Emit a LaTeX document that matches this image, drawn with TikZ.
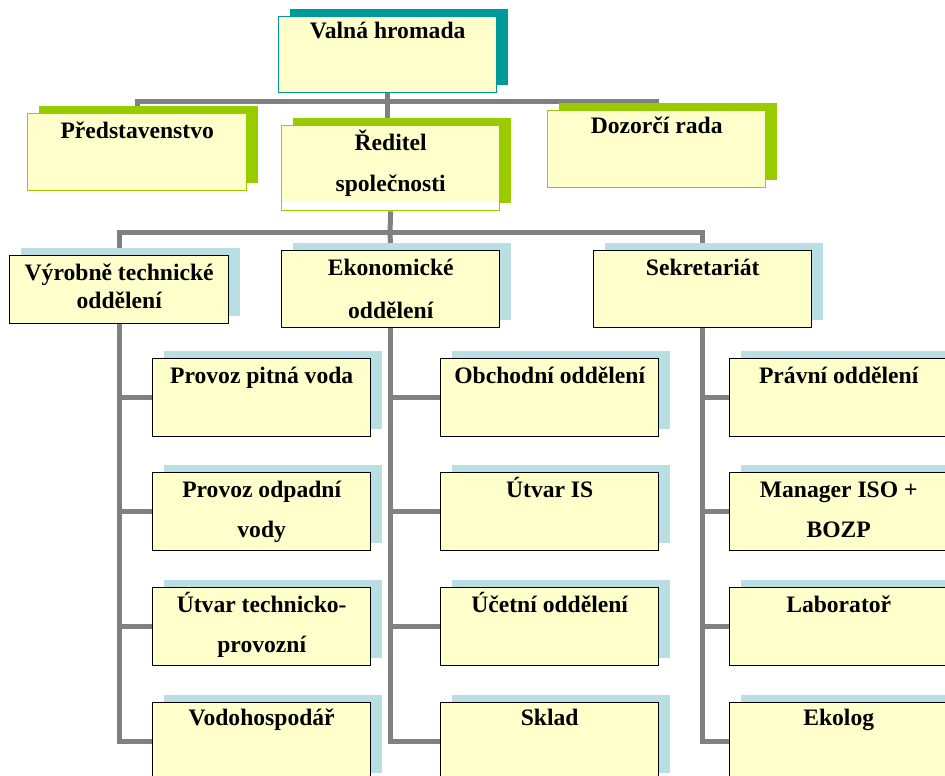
\documentclass[tikz,border=0pt]{standalone}
\usepackage{fontspec}
\setmainfont{Liberation Serif}
\usetikzlibrary{positioning}
\usetikzlibrary{shadows}
\usetikzlibrary{backgrounds}
\definecolor{boxfill}{RGB}{255,255,204}
\definecolor{tealshade}{RGB}{0,153,153}
\definecolor{greenshade}{RGB}{153,204,0}
\definecolor{blueshade}{RGB}{185,222,228}
\definecolor{linegray}{RGB}{128,128,128}
\begin{document}
\begin{tikzpicture}[x=1pt,y=-1pt,
  box/.style={draw,fill=boxfill,line width=1.4pt,anchor=north west,minimum width=218pt,minimum height=78pt,inner sep=0pt},
  shade/.style={general shadow={shadow xshift=11pt,shadow yshift=8pt,fill=#1}},
  topbox/.style={box,draw=#1,shade=#1},
  topbox/.default=greenshade,
  deptbox/.style={box,draw=black,shade=blueshade},
  boxtext/.style={anchor=base,font=\fontsize{23.6}{28}\selectfont\bfseries,align=center,inner sep=0pt},
  conn/.style={draw=linegray,line width=5pt}]
  \useasboundingbox (0,0) rectangle (945,776);
  \clip (0,0) rectangle (945,776);
  % top level
  \node[topbox=tealshade,minimum height=76pt] (vh) at (278,16) {};
  \node[boxtext] (vh-t) at ([yshift=-23pt]vh.north) {Valná hromada};
  \node[topbox,minimum width=219pt,minimum height=77pt] (pr) at (27,113) {};
  \node[boxtext] (pr-t) at ([yshift=-25pt]pr.north) {Představenstvo};
  \node[topbox,minimum height=85pt,path picture={\fill[white] ([yshift=9pt]path picture bounding box.south west) rectangle (path picture bounding box.south east);}] (rd) at (281,125) {};
  \node[boxtext] (rd-t) at ([yshift=-66pt]rd.north) {Ředitel\\[13pt]společnosti};
  \node[topbox,minimum height=77pt] (dr) at (547,110) {};
  \node[boxtext] (dr-t) at ([yshift=-23pt]dr.north) {Dozorčí rada};
  % departments (base anchor sits on the last line)
  \node[deptbox,minimum width=219pt,minimum height=68pt] (vt) at (9,255) {};
  \node[boxtext] (vt-t) at ([yshift=-53pt]vt.north) {Výrobně technické\\oddělení};
  \node[deptbox,minimum height=77pt] (eo) at (281,250) {};
  \node[boxtext] (eo-t) at ([yshift=-68pt]eo.north) {Ekonomické\\[15pt]oddělení};
  \node[deptbox,minimum height=77pt] (sk) at (593,250) {};
  \node[boxtext] (sk-t) at ([yshift=-25pt]sk.north) {Sekretariát};
  % first column
  \node[deptbox] (pv) at (152,358) {};
  \node[boxtext] (pv-t) at ([yshift=-25pt]pv.north) {Provoz pitná voda};
  \node[deptbox] (ov) at (152,472) {};
  \node[boxtext] (ov-t) at ([yshift=-65pt]ov.north) {Provoz odpadní\\[12pt]vody};
  \node[deptbox] (tp) at (152,587) {};
  \node[boxtext] (tp-t) at ([yshift=-65pt]tp.north) {Útvar technicko-\\[12pt]provozní};
  \node[deptbox] (vo) at (152,702) {};
  \node[boxtext] (vo-t) at ([yshift=-23pt]vo.north) {Vodohospodář};
  % second column
  \node[deptbox] (ob) at (440,358) {};
  \node[boxtext] (ob-t) at ([yshift=-25pt]ob.north) {Obchodní oddělení};
  \node[deptbox] (is) at (440,472) {};
  \node[boxtext] (is-t) at ([yshift=-25pt]is.north) {Útvar IS};
  \node[deptbox] (uc) at (440,587) {};
  \node[boxtext] (uc-t) at ([yshift=-25pt]uc.north) {Účetní oddělení};
  \node[deptbox] (sl) at (440,702) {};
  \node[boxtext] (sl-t) at ([yshift=-23pt]sl.north) {Sklad};
  % third column
  \node[deptbox] (pa) at (729,358) {};
  \node[boxtext] (pa-t) at ([yshift=-25pt]pa.north) {Právní oddělení};
  \node[deptbox] (mi) at (729,472) {};
  \node[boxtext] (mi-t) at ([yshift=-65pt]mi.north) {Manager ISO +\\[12pt]BOZP};
  \node[deptbox] (la) at (729,587) {};
  \node[boxtext] (la-t) at ([yshift=-25pt]la.north) {Laboratoř};
  \node[deptbox] (ek) at (729,702) {};
  \node[boxtext] (ek-t) at ([yshift=-23pt]ek.north) {Ekolog};
  % connectors
  \begin{scope}[on background layer]
  \coordinate (jt) at (388,101);
  \coordinate (jm) at (390,232);
  \draw[conn](vh.south)--(vh.south |- rd.north);
  \draw[conn](pr.north)|-(jt)-|(dr.north);
  \draw[conn](rd.south)--(jm);
  \draw[conn](vt.north)|-(jm)-|(sk.north);
  \draw[conn](jm)--(eo.north);
  \draw[conn](vt.south)|-(vo.west);
  \draw[conn](vt.south |- pv.west)--(pv.west);
  \draw[conn](vt.south |- ov.west)--(ov.west);
  \draw[conn](vt.south |- tp.west)--(tp.west);
  \draw[conn](eo.south)|-(sl.west);
  \draw[conn](eo.south |- ob.west)--(ob.west);
  \draw[conn](eo.south |- is.west)--(is.west);
  \draw[conn](eo.south |- uc.west)--(uc.west);
  \draw[conn](sk.south)|-(ek.west);
  \draw[conn](sk.south |- pa.west)--(pa.west);
  \draw[conn](sk.south |- mi.west)--(mi.west);
  \draw[conn](sk.south |- la.west)--(la.west);
  \end{scope}
\end{tikzpicture}
\end{document}
